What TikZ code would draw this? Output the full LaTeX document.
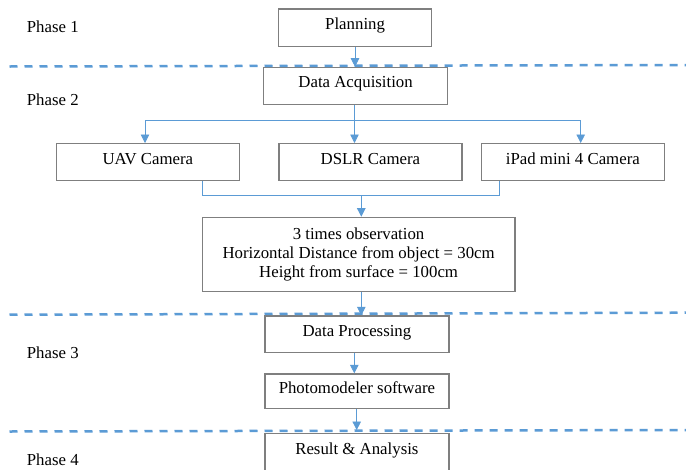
\documentclass[tikz,border=0pt]{standalone}
\usepackage{fontspec}
\setmainfont{Liberation Serif}
\usetikzlibrary{arrows.meta}
\definecolor{flowblue}{HTML}{5B9BD5}
\definecolor{boxgray}{HTML}{7F7F7F}
\begin{document}
\begin{tikzpicture}[x=1pt,y=-1pt,
  font=\fontsize{16.8}{19}\selectfont,
  boxbase/.style={draw=boxgray, line width=1.2pt, fill=white, inner sep=0pt, anchor=north west},
  stepbox/.style={boxbase, text height=12pt, text depth=8.2pt},
  conn/.style={draw=flowblue, line width=0.8pt},
  arr/.style={conn, -{Triangle[width=8.5pt,length=8.5pt]}},
  phaseline/.style={draw=flowblue, line width=2.5pt, dash pattern=on 8pt off 7pt},
  phase/.style={anchor=base west, inner sep=0pt}]
\clip (0,0) rectangle (686,469);
\fill[white] (0,0) rectangle (686,469);

% boxes
\node[stepbox, minimum width=153pt, minimum height=37.5pt] (plan) at (278,8.3) {Planning};
\node[stepbox, minimum width=184pt, minimum height=37.5pt] (acq) at (263,66.7) {Data Acquisition};
\node[stepbox, minimum width=183.5pt, minimum height=37pt] (uav) at (55.5,143) {UAV Camera};
\node[stepbox, minimum width=183pt, minimum height=37pt] (dslr) at (278.3,143) {DSLR Camera};
\node[stepbox, minimum width=183.5pt, minimum height=37pt] (ipad) at (480.5,143) {iPad mini 4 Camera};
\node[boxbase, minimum width=312.6pt, minimum height=74.5pt, align=center] (obs) at (201.7,216.7)
  {3 times observation\\Horizontal Distance from object = 30cm\\Height from surface = 100cm};
\node[stepbox, minimum width=184pt, minimum height=36.7pt] (proc) at (264.3,315.3) {Data Processing};
\node[stepbox, minimum width=184pt, minimum height=34.7pt] (photo) at (264.3,373.3) {Photomodeler software};
\node[stepbox, minimum width=184pt, minimum height=38pt] (res) at (264.3,433) {Result \& Analysis};

% phase labels
\node[phase] (p1) at (26.7,32.3) {Phase 1};
\node[phase] (p2) at (26.7,105.5) {Phase 2};
\node[phase] (p3) at (26.7,358.3) {Phase 3};
\node[phase] (p4) at (26.7,465.7) {Phase 4};

% connectors
\coordinate (c1) at (355,50);
\draw[arr] (c1 |- plan.south) -- (c1 |- acq.north);
\coordinate (split) at (354.5,120.5);
\coordinate (bl) at (145,120.5);
\coordinate (br) at (580.7,120.5);
\draw[conn] (split |- acq.south) -- (split);
\draw[conn] (bl) -- (br);
\draw[arr] (bl) -- (bl |- uav.north);
\draw[arr] (split) -- (split |- dslr.north);
\draw[arr] (br) -- (br |- ipad.north);
\coordinate (ml) at (202.7,195);
\coordinate (mr) at (499.3,195);
\coordinate (mm) at (361.3,195);
\draw[conn] (ml |- uav.south) -- (ml) -- (mr) -- (mr |- ipad.south);
\draw[arr] (mm) -- (mm |- obs.north);
\draw[arr] (mm |- obs.south) -- (mm |- proc.north);
\coordinate (c2) at (354.3,360);
\draw[arr] (c2 |- proc.south) -- (c2 |- photo.north);
\coordinate (c3) at (356.7,420);
\draw[arr, shorten >=3pt] (c3 |- photo.south) -- (c3 |- res.north);

% phase separators
\draw[phaseline] (9.5,66.5) -- (686,65);
\draw[phaseline] (9.5,314.7) -- (686,312.7);
\draw[phaseline] (9.5,431.5) -- (686,430);
\end{tikzpicture}
\end{document}
